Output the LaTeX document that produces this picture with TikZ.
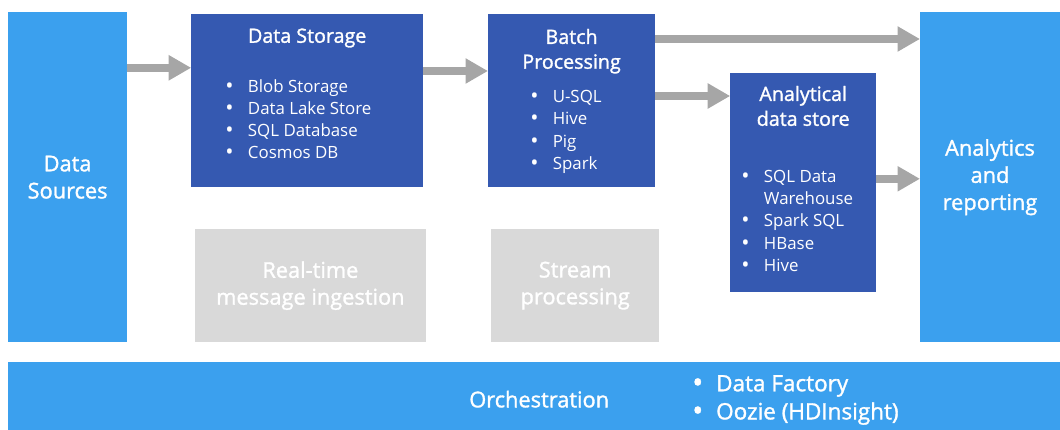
\documentclass[tikz,border=0pt]{standalone}
\usepackage{fontspec}
\setmainfont{Open Sans}
\newfontfamily\headfont[FakeBold=1.4]{Open Sans}
\usepackage{graphicx}
\usepackage{tikz}
\usetikzlibrary{positioning, arrows.meta}
\definecolor{srcblue}{HTML}{3BA0EE}
\definecolor{boxblue}{HTML}{3559B1}
\definecolor{idlegray}{HTML}{D9D9D9}
\definecolor{flowgray}{HTML}{A6A6A6}
\newcommand{\dotmark}{\raisebox{-0.06em}{\scalebox{1.3}{\textbullet}}}
\newcommand{\itm}[1]{\makebox[16pt][l]{\dotmark}#1}
\newcommand{\itmcont}[1]{\hspace*{16pt}#1}

\begin{document}
\begin{tikzpicture}[
    edgebox/.style={rectangle, fill=srcblue, text=white, align=center, inner sep=0pt, outer sep=0pt,
                    font=\headfont\fontsize{15.5}{19.3}\selectfont},
    stagebox/.style={rectangle, fill=boxblue, inner sep=0pt, outer sep=0pt},
    idlebox/.style={rectangle, fill=idlegray, text=white, align=center, inner sep=0pt, outer sep=0pt,
                    font=\headfont\fontsize{15.5}{19.1}\selectfont},
    headtext/.style={text=white, align=center, inner sep=0pt, font=\headfont\fontsize{14}{17.7}\selectfont},
    listtext/.style={text=white, align=left, inner sep=0pt, anchor=west, font=\fontsize{12}{15.8}\selectfont},
    flow/.style={draw=flowgray, line width=5.3pt, -{Triangle[length=16pt,width=17pt]}}
]
    \useasboundingbox (0,0) rectangle (26.5,-10.75);

    % outer columns and the bottom bar
    \node (src)  at (1.69,-4.43)  [edgebox, minimum width=2.98cm, minimum height=8.25cm] {Data\\Sources};
    \node (rep)  at (24.75,-4.43) [edgebox, minimum width=3.50cm, minimum height=8.25cm] {Analytics\\and\\reporting};
    \node (orch) at (13.35,-9.90) [edgebox, minimum width=26.30cm, minimum height=1.70cm] {};
    \node (orcht) at (13.48,-9.98) [headtext, font=\headfont\fontsize{15.5}{19}\selectfont] {Orchestration};
    \node (orchl) at (17.30,-10.00) [listtext, font=\headfont\fontsize{16}{20}\selectfont]
        {\makebox[17pt][l]{\dotmark}Data Factory\\ \makebox[17pt][l]{\dotmark}Oozie (HDInsight)};

    % batch path
    \node (store) at (7.68,-2.51)  [stagebox, minimum width=5.80cm, minimum height=4.33cm] {};
    \node (storet) at (7.68,-0.95) [headtext] {Data Storage};
    \node (storel) at (5.63,-2.99) [listtext] {\itm{Blob Storage}\\ \itm{Data Lake Store}\\ \itm{SQL Database}\\ \itm{Cosmos DB}};

    \node (batch) at (14.29,-2.51) [stagebox, minimum width=4.18cm, minimum height=4.33cm] {};
    \node (batcht) at (14.29,-1.28) [headtext] {Batch\\Processing};
    \node (batchl) at (13.25,-3.30) [listtext] {\itm{U-SQL}\\ \itm{Hive}\\ \itm{Pig}\\ \itm{Spark}};

    \node (ads) at (20.08,-4.56) [stagebox, minimum width=3.65cm, minimum height=5.48cm] {};
    \node (adst) at (20.08,-2.65) [headtext] {Analytical\\data store};
    \node (adsl) at (18.53,-5.53) [listtext] {\itm{SQL Data}\\ \itmcont{Warehouse}\\ \itm{Spark SQL}\\ \itm{HBase}\\ \itm{Hive}};

    % real-time path (not used here)
    \node (rt) at (7.76,-7.14)  [idlebox, minimum width=5.78cm, minimum height=2.83cm] {Real-time\\message ingestion};
    \node (sp) at (14.38,-7.14) [idlebox, minimum width=4.20cm, minimum height=2.83cm] {Stream\\processing};

    % arrows
    \draw[flow] ([yshift=-1.35cm]store.north west -| src.east) -- ([yshift=-1.35cm]store.north west);
    \draw[flow] ([yshift=-1.43cm]batch.north west -| store.east) -- ([yshift=-1.43cm]batch.north west);
    \draw[flow] ([yshift=-0.63cm]batch.north east) -- ([yshift=-0.63cm]batch.north east -| rep.west);
    \draw[flow] ([yshift=-0.58cm]ads.north west -| batch.east) -- ([yshift=-0.58cm]ads.north west);
    \draw[flow] ([yshift=-2.65cm]ads.north east) -- ([yshift=-2.65cm]ads.north east -| rep.west);
\end{tikzpicture}
\end{document}
